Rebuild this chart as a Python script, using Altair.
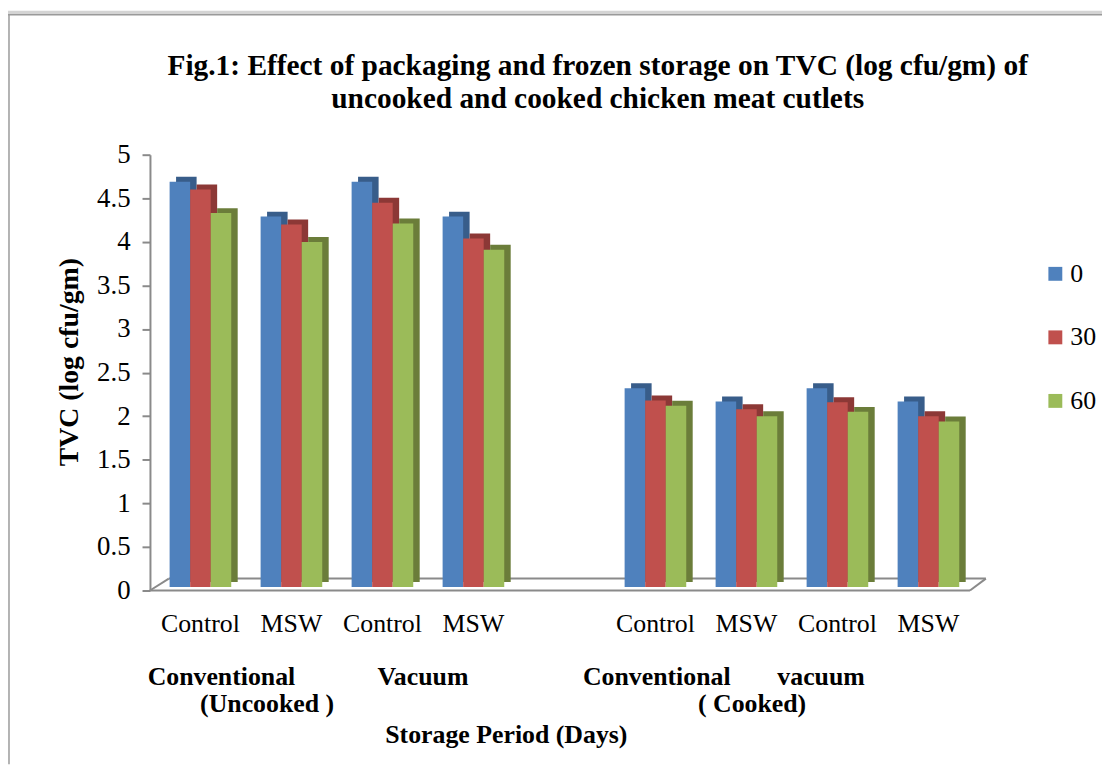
import json
import altair as alt
import pandas as pd

# ---------------- data ----------------
slot_labels = ["Control", "MSW", "Control", "MSW", "", "Control", "MSW", "Control", "MSW"]
days = ["0", "30", "60"]
tvc_day0 = [4.65, 4.25, 4.65, 4.25, None, 2.28, 2.13, 2.28, 2.13]
tvc_day30 = [4.56, 4.16, 4.41, 4.00, None, 2.14, 2.04, 2.12, 1.96]
tvc_day60 = [4.29, 3.96, 4.17, 3.87, None, 2.08, 1.96, 2.01, 1.90]
y_ticks = [0, 0.5, 1, 1.5, 2, 2.5, 3, 3.5, 4, 4.5, 5]

title_lines = [
    "Fig.1: Effect of packaging and frozen storage on TVC (log cfu/gm) of",
    "uncooked and cooked chicken meat cutlets",
]
y_title = "TVC (log cfu/gm)"
x_title = "Storage Period (Days)"

rows = []
for i, _ in enumerate(slot_labels):
    for d, vals in zip(days, [tvc_day0, tvc_day30, tvc_day60]):
        v = vals[i]
        if v is None:
            continue
        rows.append({"slot": i, "day": d, "tvc": v})
df = pd.DataFrame(rows)

front_colors = ["#4F81BD", "#C0504D", "#9BBB59"]
side_colors = ["#385D8A", "#8C3836", "#6B7D3A"]
FONT = "Liberation Serif"
GRAY = "#8a8a8a"

W, H = 825, 439
STEP = W / len(slot_labels)
DEPTH_X = 6.5

x_enc = alt.X(
    "slot:O",
    scale=alt.Scale(domain=list(range(len(slot_labels))), paddingInner=0, paddingOuter=0),
    axis=alt.Axis(
        title=None,
        labelExpr=f"{json.dumps(slot_labels)}[datum.value]",
        ticks=False,
        domain=False,
        labelPadding=20,
        labelFontSize=26,
        labelFont=FONT,
        labelColor="black",
        labelAngle=0,
    ),
)


def xoff(shift):
    return alt.XOffset(
        "day:N",
        sort=days,
        scale=alt.Scale(domain=days, range=[shift, shift + STEP], paddingInner=0, paddingOuter=0.715),
    )


y_enc = alt.Y(
    "tvc:Q",
    scale=alt.Scale(domain=[0, 5], nice=False),
    axis=alt.Axis(
        title=None,
        values=y_ticks,
        format="~g",
        grid=False,
        offset=5,
        domainColor=GRAY,
        domainWidth=2,
        tickColor=GRAY,
        tickWidth=2,
        tickSize=8,
        labelPadding=12,
        labelFontSize=27,
        labelFont=FONT,
        labelColor="black",
    ),
)

base = alt.Chart(df)

depth = base.mark_bar(yOffset=-8.5, y2Offset=-8.5).encode(
    x=x_enc,
    xOffset=xoff(DEPTH_X),
    y=y_enc,
    color=alt.Color("day:N", scale=alt.Scale(domain=days, range=side_colors), legend=None),
)

front = base.mark_bar(yOffset=-3.5, y2Offset=-3.5).encode(
    x=x_enc,
    xOffset=xoff(0),
    y=y_enc,
    color=alt.Color(
        "day:N",
        scale=alt.Scale(domain=days, range=front_colors),
        legend=alt.Legend(
            title=None,
            orient="none",
            legendX=894,
            legendY=107,
            symbolType="square",
            symbolSize=196,
            symbolStrokeWidth=0,
            labelFont=FONT,
            labelFontSize=26,
            labelColor="black",
            labelOffset=2,
            rowPadding=38,
        ),
    ),
)

bars = alt.layer(depth, front).resolve_scale(color="independent", xOffset="independent")

one = pd.DataFrame({"k": [0]})


def rule(x1, y1, x2, y2, color=GRAY, width=2):
    return alt.Chart(one).mark_rule(color=color, strokeWidth=width).encode(
        x=alt.value(x1), y=alt.value(y1), x2=alt.value(x2), y2=alt.value(y2)
    )


# 3D floor
floor = [
    rule(-5, 439, 821, 439),
    rule(14, 427, 837, 427),
    rule(-5, 439, 14, 427),
    rule(821, 439, 837, 427),
]

# outer frame
strip = alt.Chart(one).mark_rect(color="#d4d4d4").encode(
    x=alt.value(-148), x2=alt.value(954), y=alt.value(-145), y2=alt.value(-141)
)
frame = [rule(-148, -141, 954, -141, "#9a9a9a", 1.5), rule(-147, -141, -147, 614, "#9a9a9a", 1.5)]


def text(s, x, y, size=26, bold=True, angle=0, baseline="alphabetic"):
    kw = dict(
        text=s,
        font=FONT,
        fontSize=size,
        fontWeight="bold" if bold else "normal",
        color="black",
        align="center",
        baseline=baseline,
    )
    if angle:
        kw["angle"] = angle
    return alt.Chart(one).mark_text(**kw).encode(x=alt.value(x), y=alt.value(y))


texts = [
    text(title_lines[0], 446, -80, size=29.6),
    text(title_lines[1], 446, -47, size=29.6),
    text(y_title, -85, 209, size=28, angle=270, baseline="middle"),
    text("Conventional", 67, 533.7),
    text("(Uncooked )", 113, 561),
    text("Vacuum", 270, 533.7),
    text("Conventional", 505.5, 533.7),
    text("vacuum", 671, 533.7),
    text("( Cooked)", 601.5, 561),
    text(x_title, 354, 593),
]

chart = (
    alt.layer(strip, *frame, *floor, bars, *texts)
    .resolve_scale(color="independent", xOffset="independent")
    .properties(
        width=W,
        height=H,
        autosize=alt.AutoSizeParams(type="none"),
        padding={"left": 148, "top": 145, "right": 129, "bottom": 175},
        background="white",
    )
    .configure_view(stroke=None)
)

chart.save("out.html", embed_options={"renderer": "svg", "actions": False})
